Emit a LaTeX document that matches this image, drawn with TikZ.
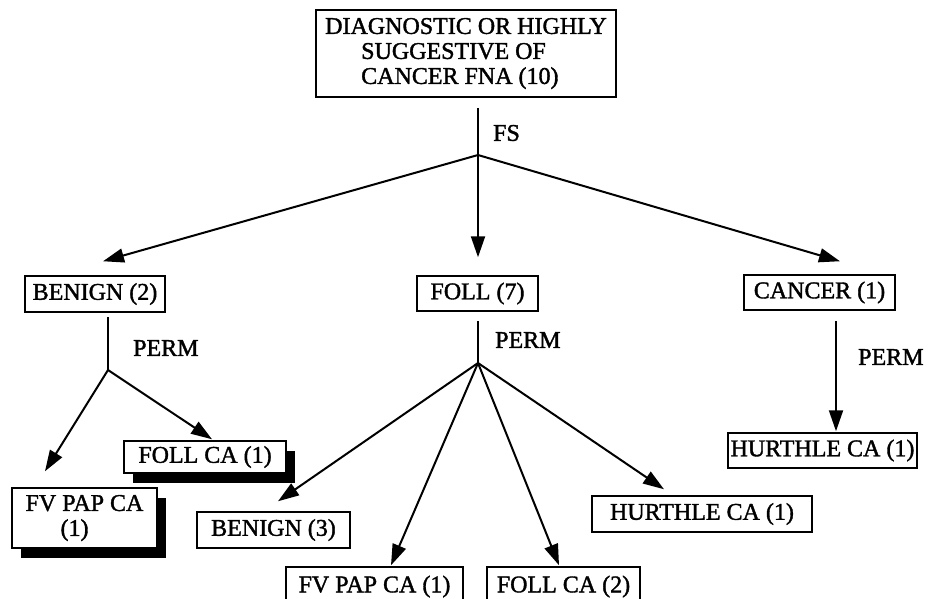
\documentclass[tikz,border=0pt]{standalone}
\usepackage{fontspec}
\setmainfont{Liberation Serif}[UprightFeatures={FakeBold=1.5}]
\usetikzlibrary{arrows.meta,shadows}

\tikzset{
    box/.style={draw,line width=1.5pt,inner sep=0pt,font=\fontsize{24}{25}\selectfont},
    shbox/.style={box,fill=white,drop shadow={shadow xshift=9pt,shadow yshift=-10pt,fill=black,opacity=1}},
    lbl/.style={anchor=west,inner sep=0pt,font=\fontsize{24}{25}\selectfont},
    arr/.style={line width=2pt,-{Triangle[length=21pt,width=14pt]}},
    stem/.style={line width=2pt},
}

\begin{document}
\begin{tikzpicture}[x=1pt,y=-1pt]
    \useasboundingbox (0,0) rectangle (949,598);
    \clip (0,0) rectangle (949,598);

    \node[box,minimum width=300pt,minimum height=87pt,align=left] (fna) at (466,53.5)
        {DIAGNOSTIC OR HIGHLY\\\hspace*{36pt}SUGGESTIVE OF\\\hspace*{36pt}CANCER FNA (10)};

    \node[box,minimum width=140pt,minimum height=36pt] (benign2) at (95,294) {BENIGN (2)};
    \node[box,minimum width=121pt,minimum height=35pt] (foll7) at (477.5,293.5) {FOLL (7)};
    \node[box,minimum width=151pt,minimum height=35pt] (cancer1) at (819.5,292.5) {CANCER (1)};

    \node[shbox,minimum width=162pt,minimum height=32pt] (follca1) at (205,457) {FOLL CA (1)};
    \node[shbox,minimum width=145pt,minimum height=60pt,align=left] (fvpap1) at (84.5,518)
        {FV PAP CA\\\hspace*{35pt}(1)};
    \node[box,minimum width=153pt,minimum height=36pt] (benign3) at (273.5,530) {BENIGN (3)};
    \node[box,minimum width=177pt,minimum height=53pt,text depth=19pt] (fvpap2) at (374.5,593.5) {FV PAP CA (1)};
    \node[box,minimum width=153pt,minimum height=53pt,text depth=19pt] (follca2) at (563.5,593.5) {FOLL CA (2)};
    \node[box,minimum width=220pt,minimum height=36pt] (hurthle2) at (702,514) {HURTHLE CA (1)};
    \node[box,minimum width=189pt,minimum height=35pt] (hurthle1) at (822.5,450.5) {HURTHLE CA (1)};

    \coordinate (j1) at (478,155);
    \coordinate (j2) at (108,370);
    \coordinate (j3) at (478,363);

    % frozen section
    \draw[stem] ([shift={(12,10)}]fna.south) -- (j1);
    \node[lbl] (fs) at (493,133) {FS};
    \draw[arr] (j1) -- ([shift={(8,-14)}]benign2.north);
    \draw[arr] (j1) -- ([shift={(0.5,-18)}]foll7.north);
    \draw[arr] (j1) -- ([shift={(20.5,-13)}]cancer1.north);

    % permanent sections
    \draw[stem] ([shift={(13,4)}]benign2.south) -- (j2);
    \node[lbl] (perm1) at (133,348) {PERM};
    \draw[arr] (j2) -- ([shift={(-39.5,-16)}]fvpap1.north);
    \draw[arr] (j2) -- ([shift={(7,-1)}]follca1.north);

    \draw[stem] ([shift={(0.5,9)}]foll7.south) -- (j3);
    \node[lbl] (perm2) at (495,340) {PERM};
    \draw[arr] (j3) -- ([shift={(4.5,-10)}]benign3.north);
    \draw[arr] (j3) -- ([shift={(16.5,-1)}]fvpap2.north);
    \draw[arr] (j3) -- ([shift={(-4.5,-1)}]follca2.north);
    \draw[arr] (j3) -- ([shift={(-38,-6)}]hurthle2.north);

    \draw[arr] ([shift={(16.5,10)}]cancer1.south) -- ([shift={(13.5,-1)}]hurthle1.north);
    \node[lbl] (perm3) at (858,357) {PERM};
\end{tikzpicture}
\end{document}
